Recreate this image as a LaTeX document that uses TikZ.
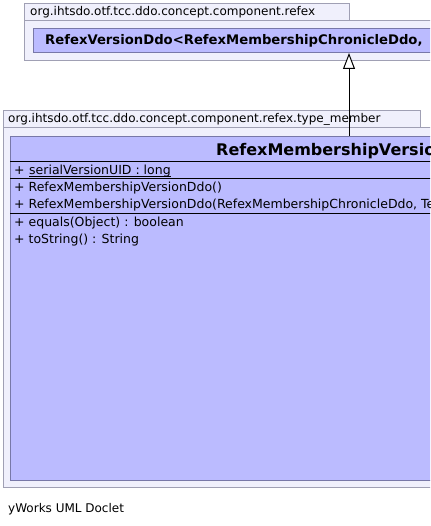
\documentclass[tikz,border=0pt]{standalone}
\usepackage{fontspec}
\setmainfont{DejaVu Sans}
\usetikzlibrary{arrows.meta}
\definecolor{pkgfill}{HTML}{F0F0FC}
\definecolor{pkgdraw}{HTML}{A0A0B4}
\definecolor{clsfill}{HTML}{BBBBFF}
\definecolor{clsdraw}{HTML}{7878A8}
\tikzset{
  pkg/.style={draw=pkgdraw, fill=pkgfill, line width=1pt, anchor=north west, inner sep=0pt},
  cls/.style={draw=clsdraw, fill=clsfill, line width=1pt, anchor=north west, inner sep=0pt},
  txt/.style={anchor=base west, inner sep=0pt, font=\fontsize{12}{14}\selectfont},
  mbr/.style={anchor=base west, inner sep=0pt, font=\fontsize{12.5}{15}\selectfont},
  ttl/.style={anchor=base west, inner sep=0pt, font=\fontsize{13.2}{15}\bfseries\selectfont},
  bigttl/.style={anchor=base west, inner sep=0pt, font=\fontsize{16}{19}\bfseries\selectfont},
  sep/.style={draw=black, line width=1pt},
  inh/.style={draw=black, line width=1pt, -{Triangle[open, width=12pt, length=16pt, fill=white]}}
}
\begin{document}
\begin{tikzpicture}[x=1pt, y=-1pt]
\useasboundingbox (0,0) rectangle (430,526);
\clip (0,0) rectangle (430,526);
\fill[white] (0,0) rectangle (430,526);
% package 1
\node[pkg, minimum width=325pt, minimum height=17pt] (p1tab) at (24,3) {};
\node[pkg, minimum width=460pt, minimum height=40pt] (p1body) at (24,20) {};
\node[txt] (p1lbl) at (30,16) {org.ihtsdo.otf.tcc.ddo.concept.component.refex};
\node[cls, minimum width=460pt, minimum height=24pt] (c1) at (33,28) {};
\node[ttl] (c1ttl) at (45,45) {RefexVersionDdo<RefexMembershipChronicleDdo,};
% package 2
\node[pkg, minimum width=417pt, minimum height=17pt] (p2tab) at (3,110) {};
\node[pkg, minimum width=480pt, minimum height=360pt] (p2body) at (3,127) {};
\node[txt] (p2lbl) at (8,123) {org.ihtsdo.otf.tcc.ddo.concept.component.refex.type\_member};
\node[cls, minimum width=480pt, minimum height=344pt] (c2) at (10,136) {};
\node[bigttl] (c2ttl) at (216,156) {RefexMembershipVersionDdo};
\draw[sep] (10,161.5) -- (480,161.5);
\draw[sep] (10,179) -- (480,179);
\draw[sep] (10,214) -- (480,214);
\node[mbr] (a0) at (14,175) {+};
\node[mbr] (a1) at (29,175) {serialVersionUID : long};
\draw[line width=1pt] ([yshift=-2pt]a1.base west) -- ([yshift=-2pt]a1.base east);
\node[mbr] (m1) at (14,192) {+ RefexMembershipVersionDdo()};
\node[mbr] (m2) at (14,209) {+ RefexMembershipVersionDdo(RefexMembershipChronicleDdo, TerminologySnapshotDI)};
\node[mbr] (m3) at (14,226) {+ equals(Object) : boolean};
\node[mbr] (m4) at (14,243) {+ toString() : String};
% inheritance
\coordinate (ax) at (349,0);
\draw[inh] (ax |- c2.north) -- (ax |- c1.south);
% footer
\node[txt] (foot) at (8,512) {yWorks UML Doclet};
\end{tikzpicture}
\end{document}
